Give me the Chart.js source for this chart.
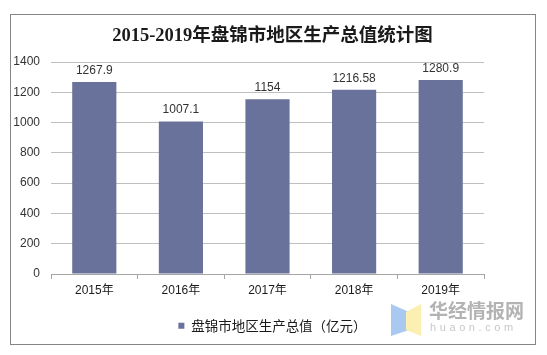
<!DOCTYPE html>
<html>
<head>
<meta charset="utf-8">
<script src="https://cdn.jsdelivr.net/npm/chart.js@4"></script>
<style>
  html, body { margin: 0; padding: 0; background: #ffffff; }
  #wrap { width: 547px; height: 355px; position: relative; }
</style>
</head>
<body>
<div id="wrap"><canvas id="c" width="547" height="355"></canvas></div>
<script>
const titleText = '2015-2019年盘锦市地区生产总值统计图';
const categories = ['2015年', '2016年', '2017年', '2018年', '2019年'];
const seriesName = '盘锦市地区生产总值（亿元）';
const gdpValues = [1267.9, 1007.1, 1154, 1216.58, 1280.9];
const valueLabels = ['1267.9', '1007.1', '1154', '1216.58', '1280.9'];
const yTicks = [0, 200, 400, 600, 800, 1000, 1200, 1400];
const watermarkCn = '华经情报网';
const watermarkEn = 'huaon.com';

const barColor = '#69729a';
const sansFont = '"Liberation Sans", Arial, "Noto Sans CJK SC", sans-serif';

const framePlugin = {
  id: 'frame',
  beforeDraw(chart) {
    const ctx = chart.ctx;
    ctx.save();
    ctx.fillStyle = '#ffffff';
    ctx.fillRect(0, 0, chart.width, chart.height);
    ctx.strokeStyle = '#858585';
    ctx.lineWidth = 1;
    ctx.strokeRect(10.5, 14.5, 525, 330);
    ctx.restore();
  }
};

const valueLabelPlugin = {
  id: 'valueLabels',
  afterDatasetsDraw(chart) {
    const ctx = chart.ctx;
    const meta = chart.getDatasetMeta(0);
    ctx.save();
    ctx.font = '12px ' + sansFont;
    ctx.fillStyle = '#333333';
    ctx.textAlign = 'center';
    ctx.textBaseline = 'alphabetic';
    meta.data.forEach((bar, i) => {
      ctx.fillText(valueLabels[i], bar.x, bar.y - 8);
    });
    ctx.restore();
  }
};

const watermarkPlugin = {
  id: 'watermark',
  afterDraw(chart) {
    const ctx = chart.ctx;
    ctx.save();
    ctx.fillStyle = '#a9c9f1';
    ctx.beginPath();
    ctx.moveTo(391, 304); ctx.lineTo(409, 312); ctx.lineTo(409, 330); ctx.lineTo(391, 336);
    ctx.closePath(); ctx.fill();
    ctx.fillStyle = '#fcefb2';
    ctx.beginPath();
    ctx.moveTo(406, 312); ctx.lineTo(421, 304); ctx.lineTo(421, 336); ctx.lineTo(406, 330);
    ctx.closePath(); ctx.fill();
    ctx.fillStyle = '#b3b3b3';
    ctx.font = 'bold 19px "Noto Sans CJK SC", sans-serif';
    ctx.textAlign = 'left';
    ctx.textBaseline = 'middle';
    ctx.fillText(watermarkCn, 429, 311);
    ctx.fillStyle = '#c8c8c8';
    ctx.font = '11px ' + sansFont;
    try { ctx.letterSpacing = '3.6px'; } catch (e) {}
    ctx.fillText(watermarkEn, 430, 328);
    ctx.restore();
  }
};

new Chart(document.getElementById('c'), {
  type: 'bar',
  data: {
    labels: categories,
    datasets: [{
      label: seriesName,
      data: gdpValues,
      backgroundColor: barColor,
      borderWidth: 0,
      categoryPercentage: 1.0,
      barPercentage: 0.51
    }]
  },
  options: {
    responsive: false,
    animation: false,
    devicePixelRatio: 1,
    layout: { padding: { left: 10, right: 12, top: 14, bottom: 12.5 } },
    plugins: {
      title: {
        display: true,
        text: titleText,
        color: '#1a1a1a',
        font: { family: '"Liberation Serif", "Noto Sans CJK SC", serif', size: 18.5, weight: 'bold' },
        padding: { top: 11, bottom: 14.8 }
      },
      legend: {
        display: true,
        position: 'bottom',
        labels: {
          boxWidth: 6,
          boxHeight: 6,
          padding: 10,
          color: '#1a1a1a',
          font: { family: '"Noto Sans CJK SC", sans-serif', size: 13.5 }
        }
      },
      tooltip: { enabled: false }
    },
    scales: {
      x: {
        offset: true,
        grid: { display: true, drawOnChartArea: false, offset: true, drawTicks: true, tickLength: 5, color: '#a6a6a6' },
        border: { display: true, color: '#a6a6a6' },
        ticks: { color: '#1a1a1a', padding: 4, font: { family: sansFont, size: 12 } },
        afterFit(s) { s.height = 35; }
      },
      y: {
        min: 0,
        max: 1400,
        afterBuildTicks(s) { s.ticks = yTicks.map(v => ({ value: v })); },
        grid: { color: '#bfbfbf', drawTicks: false },
        border: { display: false },
        ticks: { color: '#333333', padding: 11, font: { family: sansFont, size: 12 }, callback: (v) => String(v) },
        afterFit(s) { s.width = 41; }
      },
      yR: {
        type: 'linear',
        position: 'right',
        display: true,
        grid: { display: false, drawTicks: false },
        border: { display: false },
        ticks: { display: false },
        afterFit(s) { s.width = 51; }
      }
    }
  },
  plugins: [framePlugin, valueLabelPlugin, watermarkPlugin]
});
</script>
</body>
</html>
